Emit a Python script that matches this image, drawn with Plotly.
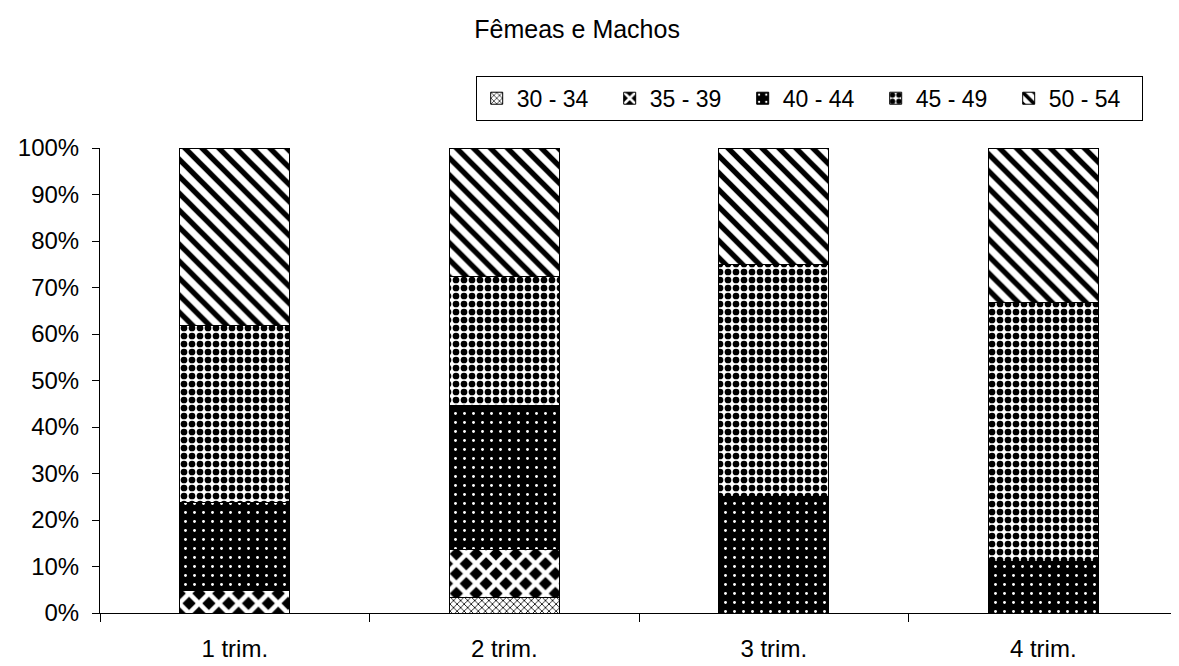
import plotly.graph_objects as go

# percent shares per quarter
categories = ["1 trim.", "2 trim.", "3 trim.", "4 trim."]
age_groups = ["30 - 34", "35 - 39", "40 - 44", "45 - 49", "50 - 54"]
p_30_34 = [0.0, 3.4, 0.0, 0.0]
p_35_39 = [4.8, 10.3, 0.0, 0.0]
p_40_44 = [19.0, 31.0, 25.0, 11.1]
p_45_49 = [38.1, 27.6, 50.0, 55.6]
p_50_54 = [38.1, 27.7, 25.0, 33.3]
series = [p_30_34, p_35_39, p_40_44, p_45_49, p_50_54]

patterns = [
    dict(shape="x", fgcolor="black", bgcolor="white", size=5, solidity=0.3, fillmode="replace"),
    dict(shape="x", fgcolor="white", bgcolor="black", size=14, solidity=0.55, fillmode="replace"),
    dict(shape=".", fgcolor="white", bgcolor="black", size=9, solidity=0.08, fillmode="replace"),
    dict(shape=".", fgcolor="black", bgcolor="white", size=8, solidity=0.55, fillmode="replace"),
    dict(shape="\\", fgcolor="black", bgcolor="white", size=12, solidity=0.45, fillmode="replace"),
]

fig = go.Figure()
for name, vals, pat in zip(age_groups, series, patterns):
    fig.add_trace(go.Bar(
        x=categories, y=vals, name=name,
        marker=dict(color="white", pattern=pat, line=dict(color="black", width=1)),
    ))

# page body has an 8px margin, so the figure is drawn a bit smaller
font = "Liberation Sans, Arial, sans-serif"
fig.update_layout(
    barmode="stack",
    bargap=0.593,
    width=1171, height=658,
    margin=dict(l=92, r=1, t=140, b=53, autoexpand=False),
    paper_bgcolor="white",
    plot_bgcolor="white",
    font=dict(family=font, size=24, color="black"),
    title=dict(text="Fêmeas e Machos", x=0.486, xanchor="center", y=0.967, yanchor="middle",
               font=dict(size=25, family=font, color="black")),
    legend=dict(orientation="h", traceorder="normal", xref="container", yref="container",
                x=0.969, xanchor="right", y=0.897, yanchor="top",
                bordercolor="black", borderwidth=1, bgcolor="white",
                font=dict(size=23), itemwidth=30, entrywidth=88, tracegroupgap=0),
    xaxis=dict(showline=True, linecolor="black", linewidth=1, ticks="outside",
               tickson="boundaries", ticklen=8, tickcolor="black", showgrid=False,
               automargin=False, ticklabelstandoff=14),
    yaxis=dict(range=[0, 100], tickvals=list(range(0, 101, 10)),
               ticktext=[f"{v}%" for v in range(0, 101, 10)],
               showline=True, linecolor="black", linewidth=1, ticks="outside",
               ticklen=7, tickcolor="black", showgrid=False, zeroline=False,
               automargin=False, ticklabelstandoff=8),
)

fig.write_html("out.html")
